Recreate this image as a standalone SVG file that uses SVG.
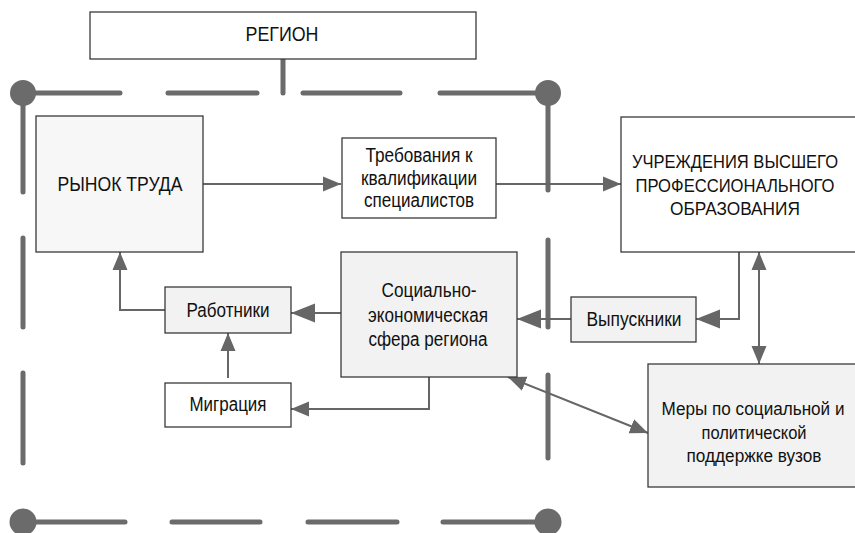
<svg xmlns="http://www.w3.org/2000/svg" width="855" height="533" viewBox="0 0 855 533">
<defs>
<style>
.box{stroke:#3a3a3a;stroke-width:1.3}
.w{fill:#ffffff}
.g{fill:#f2f2f2}
.g2{fill:#f7f7f7}
.t{font-family:"Liberation Sans",Arial,sans-serif;font-size:20px;fill:#111;text-anchor:middle}
.s{font-size:17.5px}
.c{fill:none;stroke:#666;stroke-width:2}
.b{fill:none;stroke:#6b6b6b;stroke-width:5;stroke-linecap:round}
.dot{fill:#6b6b6b}
</style>
<marker id="a" markerUnits="userSpaceOnUse" markerWidth="18" markerHeight="16" refX="18" refY="8" orient="auto-start-reverse">
<path d="M0,0.5 L18,8 L0,15.5 z" fill="#666"/>
</marker>
<marker id="L" markerUnits="userSpaceOnUse" markerWidth="24" markerHeight="20" refX="24" refY="10" orient="auto-start-reverse">
<path d="M0,0.5 L24,10 L0,19.5 z" fill="#666"/>
</marker>
</defs>

<g id="boundary">
<path class="b" d="M283,59 V93 M23,93 H120 M168,93 H257 M303,93 H400 M440,93 H548 M23,93 V192 M23,238 V327 M23,373 V463 M548,93 V190 M548,240 V327 M548,375 V458 M23,522 H125 M172,522 H260 M308,522 H397 M443,522 H548"/>
<circle class="dot" cx="23" cy="93" r="13"/>
<circle class="dot" cx="548" cy="93" r="13"/>
<circle class="dot" cx="23" cy="522" r="13.5"/>
<circle class="dot" cx="548" cy="522" r="13.5"/>
</g>

<g id="connectors">
<path class="c" d="M203,184 H341" marker-end="url(#a)"/>
<path class="c" d="M496,184 H621" marker-end="url(#a)"/>
<path class="c" d="M739,252 V319 H696" marker-end="url(#L)"/>
<path class="c" d="M571,319 H517" marker-end="url(#L)"/>
<path class="c" d="M341,313 H291" marker-end="url(#L)"/>
<path class="c" d="M165,310 H120 V252" marker-end="url(#a)"/>
<path class="c" d="M228,378 V333" marker-end="url(#a)"/>
<path class="c" d="M429,377 V409 H291" marker-end="url(#a)"/>
<path class="c" d="M759,252 V364" marker-start="url(#a)" marker-end="url(#a)"/>
<path class="c" d="M508,377 L648,433" marker-start="url(#a)" marker-end="url(#a)"/>
</g>

<g id="region">
<rect class="box w" x="90" y="12" width="386" height="47"/>
<text class="t" x="282" y="41" textLength="73" lengthAdjust="spacingAndGlyphs">РЕГИОН</text>
</g>

<g id="labor-market">
<rect class="box g2" x="36" y="116" width="167" height="136"/>
<text class="t" x="120" y="191" textLength="125" lengthAdjust="spacingAndGlyphs">РЫНОК ТРУДА</text>
</g>

<g id="requirements">
<rect class="box w" x="342" y="138" width="154" height="80"/>
<text class="t" x="419" y="162" textLength="107" lengthAdjust="spacingAndGlyphs">Требования к</text>
<text class="t" x="419" y="184.5" textLength="116" lengthAdjust="spacingAndGlyphs">квалификации</text>
<text class="t" x="419" y="207" textLength="110" lengthAdjust="spacingAndGlyphs">специалистов</text>
</g>

<g id="universities">
<rect class="box w" x="621" y="117" width="240" height="135"/>
<text class="t s" x="735" y="168" textLength="206" lengthAdjust="spacingAndGlyphs">УЧРЕЖДЕНИЯ ВЫСШЕГО</text>
<text class="t s" x="735" y="192" textLength="199" lengthAdjust="spacingAndGlyphs">ПРОФЕССИОНАЛЬНОГО</text>
<text class="t s" x="735" y="215" textLength="130" lengthAdjust="spacingAndGlyphs">ОБРАЗОВАНИЯ</text>
</g>

<g id="socio-economic">
<rect class="box g" x="341" y="252" width="176" height="125"/>
<text class="t" x="429" y="297" textLength="95" lengthAdjust="spacingAndGlyphs">Социально-</text>
<text class="t" x="428" y="321.5" textLength="120" lengthAdjust="spacingAndGlyphs">экономическая</text>
<text class="t" x="428" y="346" textLength="119" lengthAdjust="spacingAndGlyphs">сфера региона</text>
</g>

<g id="workers">
<rect class="box g" x="165" y="287" width="126" height="46"/>
<text class="t" x="228" y="317" textLength="83" lengthAdjust="spacingAndGlyphs">Работники</text>
</g>

<g id="migration">
<rect class="box w" x="165" y="383" width="126" height="44"/>
<text class="t" x="228" y="411" textLength="77" lengthAdjust="spacingAndGlyphs">Миграция</text>
</g>

<g id="graduates">
<rect class="box g" x="571" y="297" width="125" height="45"/>
<text class="t" x="634" y="326" textLength="95" lengthAdjust="spacingAndGlyphs">Выпускники</text>
</g>

<g id="support">
<rect class="box g" x="648" y="364" width="212" height="123"/>
<text class="t s" x="753" y="415" textLength="183" lengthAdjust="spacingAndGlyphs">Меры по социальной и</text>
<text class="t s" x="754" y="438.5" textLength="105" lengthAdjust="spacingAndGlyphs">политической</text>
<text class="t s" x="754" y="462" textLength="135" lengthAdjust="spacingAndGlyphs">поддержке вузов</text>
</g>
</svg>
